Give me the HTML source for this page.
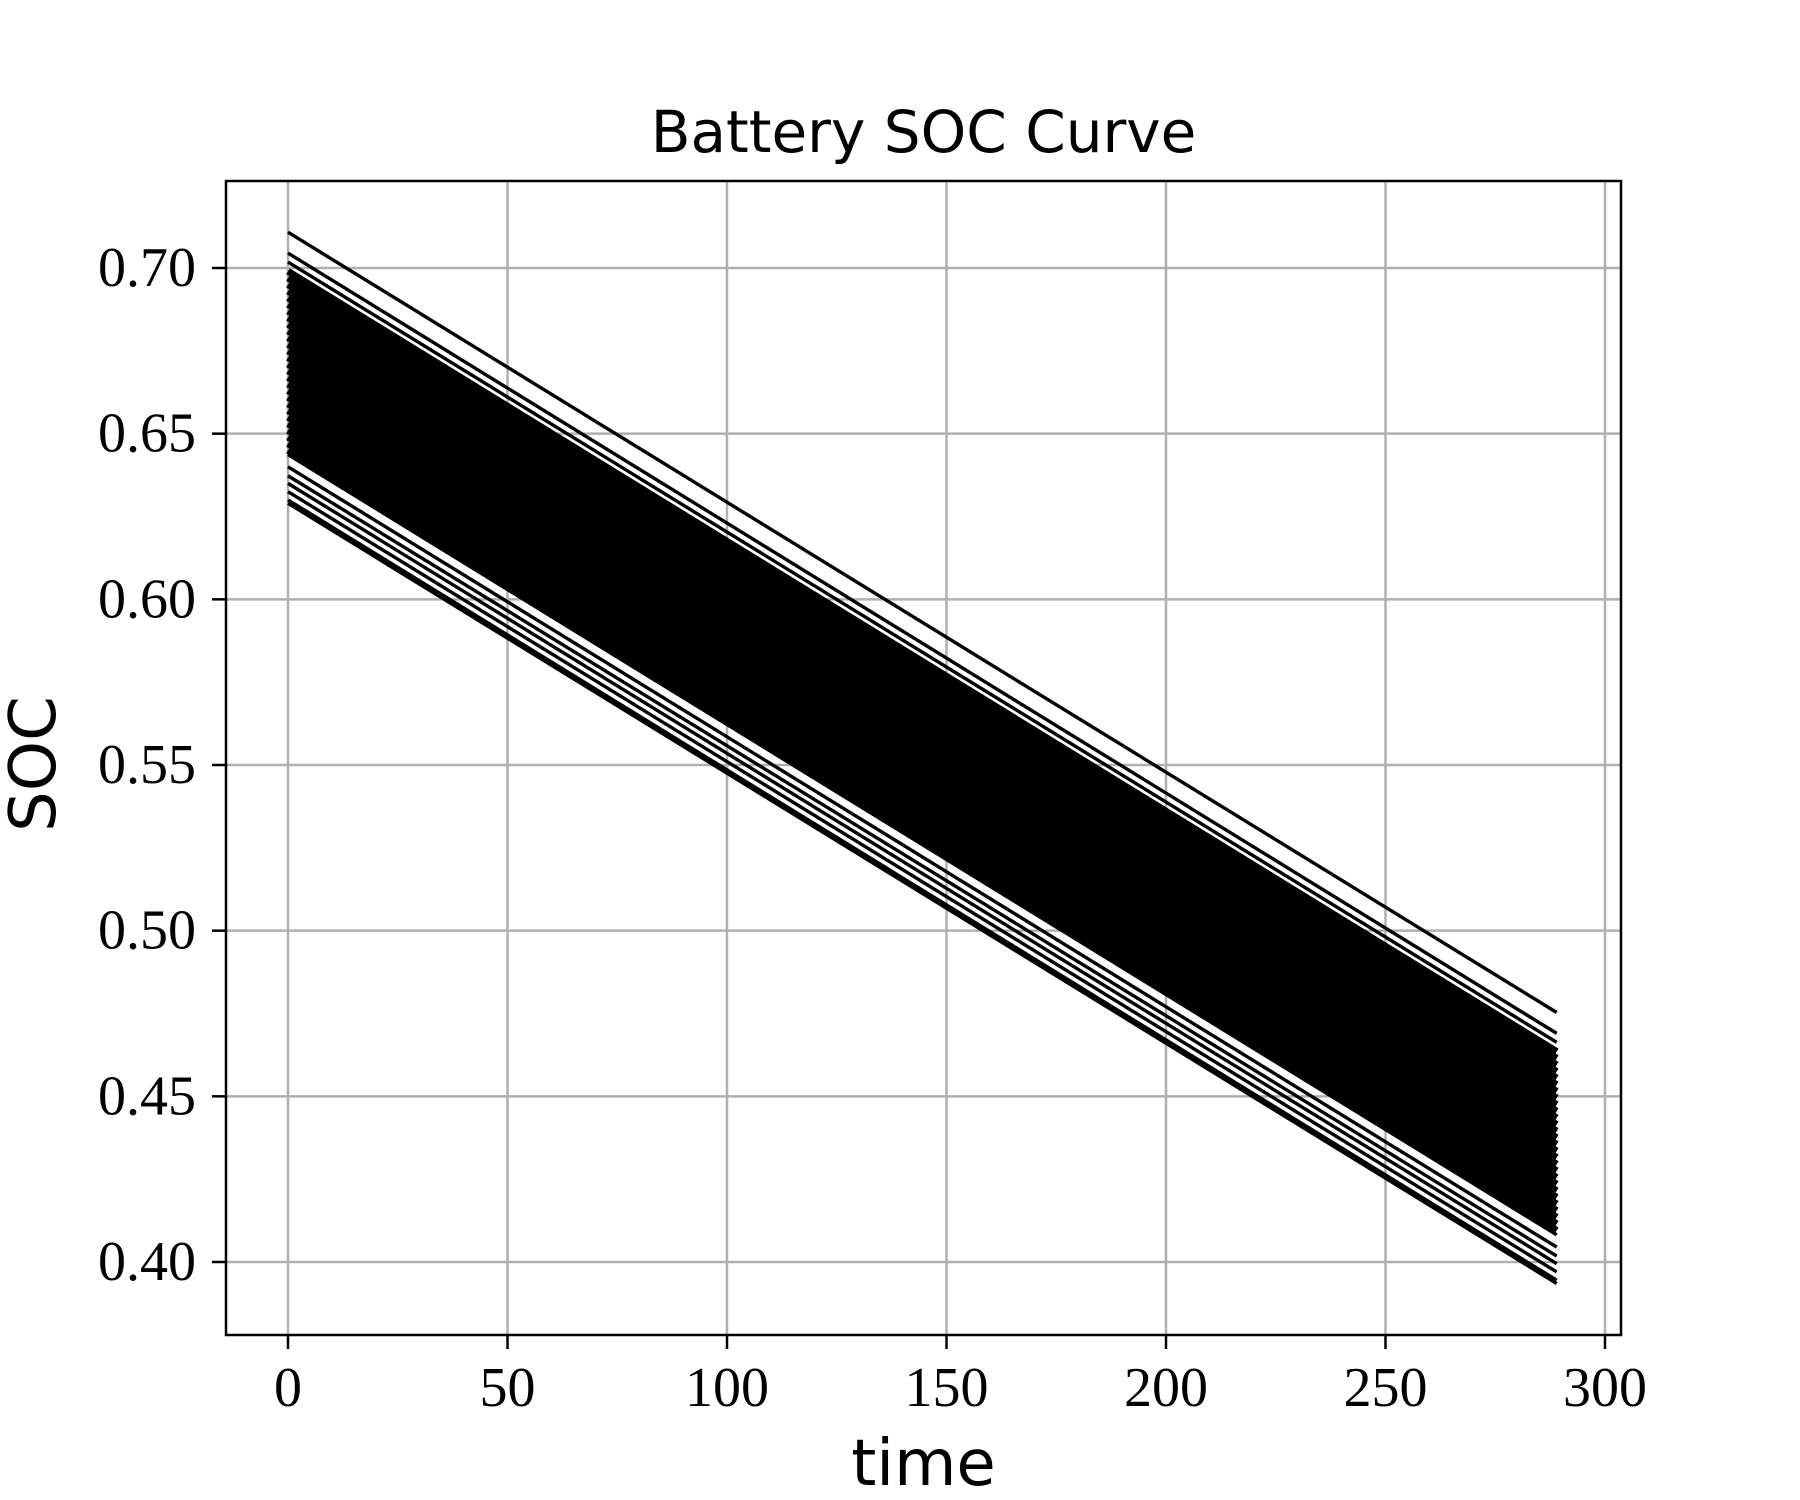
<!DOCTYPE html>
<html><head><meta charset="utf-8">
<style>
html,body{margin:0;padding:0;background:#fff;}
svg{display:block;}
</style></head>
<body>
<svg id="chart" width="1800" height="1500" viewBox="0 0 1800 1500" xmlns="http://www.w3.org/2000/svg"></svg>
<script>
const xTicks = [0, 50, 100, 150, 200, 250, 300];
const xTickLabels = ["0", "50", "100", "150", "200", "250", "300"];
const yTicks = [0.40, 0.45, 0.50, 0.55, 0.60, 0.65, 0.70];
const yTickLabels = ["0.40", "0.45", "0.50", "0.55", "0.60", "0.65", "0.70"];
const timeStart = 0;
const timeEnd = 289;
// outlier curves above the band
const upperStart = [0.7108, 0.7045, 0.7018];
const upperEnd   = [0.4753, 0.4690, 0.4663];
// dense band
const bandStart = [0.645,0.647,0.649,0.651,0.653,0.655,0.657,0.659,0.661,0.663,0.665,0.667,0.669,0.671,0.673,0.675,0.677,0.679,0.681,0.683,0.685,0.687,0.689,0.691,0.693,0.695,0.697,0.699];
const bandEnd   = [0.4095,0.4115,0.4135,0.4155,0.4175,0.4195,0.4215,0.4235,0.4255,0.4275,0.4295,0.4315,0.4335,0.4355,0.4375,0.4395,0.4415,0.4435,0.4455,0.4475,0.4495,0.4515,0.4535,0.4555,0.4575,0.4595,0.4615,0.4635];
// outlier curves below the band
const lowerStart = [0.6437, 0.6400, 0.6373, 0.6350, 0.6325, 0.6300, 0.6290];
const lowerEnd   = [0.4082, 0.4045, 0.4018, 0.3995, 0.3970, 0.3945, 0.3935];

const NS = "http://www.w3.org/2000/svg";
const svg = document.getElementById("chart");
const L = 226, R = 1621, T = 181, B = 1335;
function xs(t){ return 288 + (t - 0) * (1605 - 288) / 300; }
function ys(v){ return 1262 - (v - 0.40) * (1262 - 268) / 0.30; }
function mk(tag, attrs){ const e = document.createElementNS(NS, tag); for (const k in attrs) e.setAttribute(k, attrs[k]); svg.appendChild(e); return e; }

xTicks.forEach((t,i)=>{
  const g = mk("line",{x1:xs(t),x2:xs(t),y1:T,y2:B,stroke:"#b0b0b0","stroke-width":2.5});
  
  
});
yTicks.forEach((v,i)=>{
  const g = mk("line",{x1:L,x2:R,y1:ys(v),y2:ys(v),stroke:"#b0b0b0","stroke-width":2.5});
  
  
});

function drawSet(starts, ends, w, name){
  starts.forEach((s,i)=>{
    const ln = mk("line",{x1:xs(timeStart),y1:ys(s),x2:xs(timeEnd),y2:ys(ends[i]),stroke:"#000","stroke-width":w});
    
    
  });
}
drawSet(bandStart, bandEnd, 7, 'soc-band-curve');
drawSet(upperStart, upperEnd, 3.4, 'soc-upper-curve');
drawSet(lowerStart, lowerEnd, 3.4, 'soc-lower-curve');

const fr = mk("rect",{x:L,y:T,width:R-L,height:B-T,fill:"none",stroke:"#000","stroke-width":2.5});



xTicks.forEach((t,i)=>{
  const tk = mk("line",{x1:xs(t),x2:xs(t),y1:B,y2:B+14,stroke:"#000","stroke-width":2.5});
  
  
  const tx = mk("text",{x:xs(t),y:B+71,"text-anchor":"middle","font-family":"Liberation Serif, serif","font-size":56});
  tx.textContent = xTickLabels[i];
  
  
});
yTicks.forEach((v,i)=>{
  const tk = mk("line",{x1:L-14,x2:L,y1:ys(v),y2:ys(v),stroke:"#000","stroke-width":2.5});
  
  
  const tx = mk("text",{x:L-30,y:ys(v)+18,"text-anchor":"end","font-family":"Liberation Serif, serif","font-size":56});
  tx.textContent = yTickLabels[i];
  
  
});

const title = mk("text",{x:(L+R)/2,y:152,"text-anchor":"middle","font-family":"DejaVu Sans, Liberation Sans, sans-serif","font-size":58});
title.textContent = "Battery SOC Curve";



const xl = mk("text",{x:(L+R)/2,y:1485,"text-anchor":"middle","font-family":"DejaVu Sans, Liberation Sans, sans-serif","font-size":64});
xl.textContent = "time";



const yl = mk("text",{x:0,y:0,"text-anchor":"middle","font-family":"DejaVu Sans, Liberation Sans, sans-serif","font-size":64,transform:"translate(55,764) rotate(-90)"});
yl.textContent = "SOC";


</script>
</body></html>
